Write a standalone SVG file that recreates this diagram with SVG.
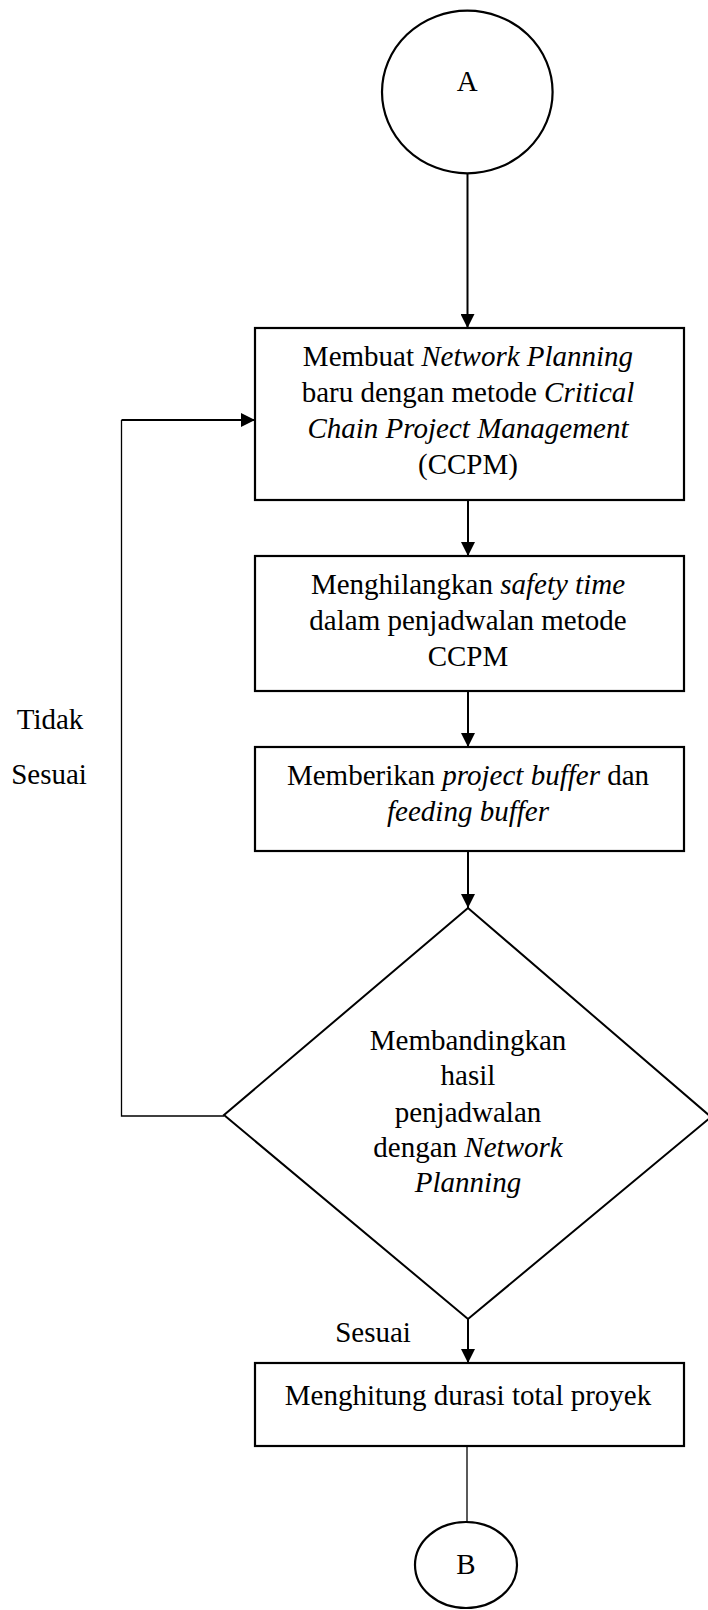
<svg xmlns="http://www.w3.org/2000/svg" width="708" height="1610" viewBox="0 0 708 1610" font-family="'Liberation Serif', 'Times New Roman', 'DejaVu Serif', serif">
<style>
text{font-family:'Liberation Serif','Times New Roman','DejaVu Serif',serif;font-size:29px;fill:#000;text-anchor:middle}
.i{font-style:italic}
.box{fill:#fff;stroke:#000;stroke-width:2.2}
.conn{fill:none;stroke:#000;stroke-width:2}
.thin{fill:none;stroke:#000;stroke-width:1.3}
</style>
<defs>
<marker id="ah" viewBox="0 0 14 14" refX="14" refY="7" markerWidth="14" markerHeight="14" markerUnits="userSpaceOnUse" orient="auto">
<path d="M0,0 L14,7 L0,14 z" fill="#000"/>
</marker>
</defs>
<rect width="708" height="1610" fill="#fff"/>
<g id="connectors">
<path class="conn" d="M467.5 173 V328" marker-end="url(#ah)"/>
<path class="conn" d="M468 500 V556" marker-end="url(#ah)"/>
<path class="conn" d="M468 691 V747" marker-end="url(#ah)"/>
<path class="conn" d="M468 851 V908" marker-end="url(#ah)"/>
<path class="conn" d="M468 1319 V1363" marker-end="url(#ah)"/>
<path class="thin" d="M467 1446 V1522"/>
<path class="thin" d="M224 1116 H121.5 V420"/>
<path class="conn" d="M121.5 420 H255" marker-end="url(#ah)"/>
</g>
<g id="nodeA">
<ellipse class="box" cx="467.3" cy="92" rx="85.3" ry="81.3"/>
<text x="467.3" y="91">A</text>
</g>
<g id="box1">
<rect class="box" x="255" y="328" width="429" height="172"/>
<text x="468" y="365.5">Membuat <tspan class="i">Network Planning</tspan></text>
<text x="468" y="401.5">baru dengan metode <tspan class="i">Critical</tspan></text>
<text x="468" y="437.5" class="i">Chain Project Management</text>
<text x="468" y="473.5">(CCPM)</text>
</g>
<g id="box2">
<rect class="box" x="255" y="556" width="429" height="135"/>
<text x="468" y="593.5">Menghilangkan <tspan class="i">safety time</tspan></text>
<text x="468" y="629.5">dalam penjadwalan metode</text>
<text x="468" y="665.5">CCPM</text>
</g>
<g id="box3">
<rect class="box" x="255" y="747" width="429" height="104"/>
<text x="468" y="785">Memberikan <tspan class="i">project buffer</tspan> dan</text>
<text x="468" y="820.5" class="i">feeding buffer</text>
</g>
<g id="decision">
<polygon class="box" points="468,908 224,1115 468,1319 711,1117" style="stroke-width:2"/>
<text x="468" y="1049.5">Membandingkan</text>
<text x="468" y="1085">hasil</text>
<text x="468" y="1121.5">penjadwalan</text>
<text x="468" y="1157">dengan <tspan class="i">Network</tspan></text>
<text x="468" y="1192" class="i">Planning</text>
</g>
<g id="box4">
<rect class="box" x="255" y="1363" width="429" height="83"/>
<text x="468" y="1405">Menghitung durasi total proyek</text>
</g>
<g id="nodeB">
<ellipse class="box" cx="466" cy="1565" rx="51" ry="43"/>
<text x="466" y="1574">B</text>
</g>
<g id="labels">
<text x="50" y="729">Tidak</text>
<text x="49" y="784">Sesuai</text>
<text x="373" y="1341.5">Sesuai</text>
</g>
</svg>
